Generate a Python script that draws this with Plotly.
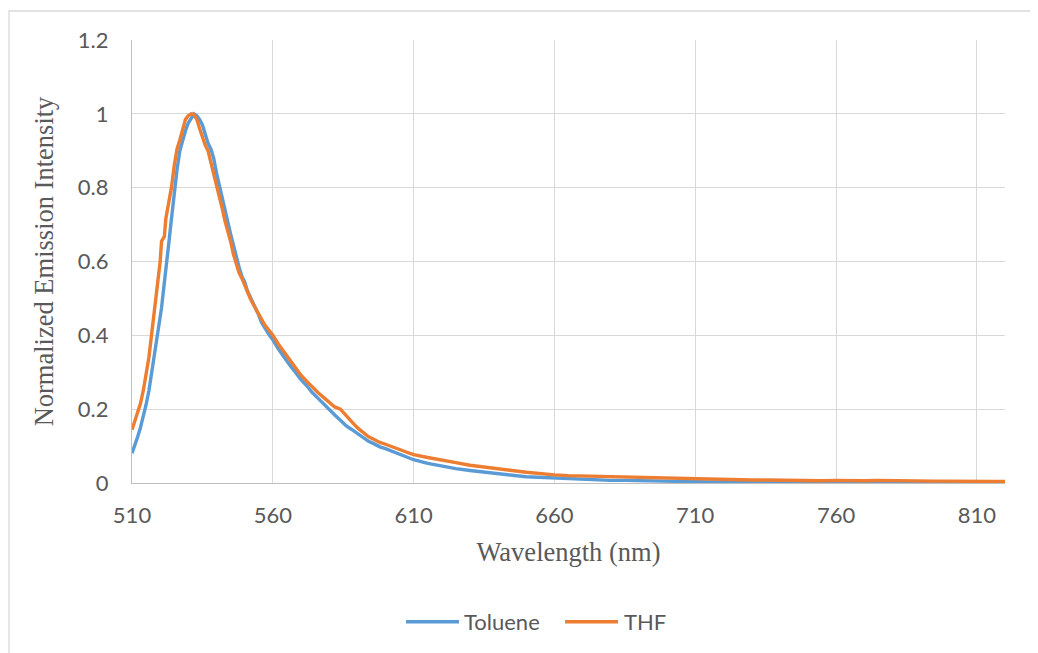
import plotly.graph_objects as go

# Wavelength grid (nm)
wavelength = [510, 511, 512, 513, 514, 515, 516, 517, 518, 519, 520, 520.5, 521, 521.5, 522, 523, 524, 525,
              526, 527, 528, 529, 530, 531, 532, 533, 534, 535, 536, 537, 538, 539, 540, 541, 542, 543,
              544, 545, 546, 547, 548, 549, 550, 551, 552, 553, 554, 555, 556, 557, 558, 559, 560,
              562, 564, 566, 568, 570, 572, 574, 576, 578, 580, 582, 584, 586, 588, 590, 592, 594,
              596, 598, 600, 602, 604, 606, 608, 610, 615, 620, 625, 630, 635, 640, 645, 650, 655,
              660, 665, 670, 675, 680, 685, 690, 695, 700, 705, 710, 715, 720, 725, 730, 735, 740,
              745, 750, 755, 760, 765, 770, 775, 780, 785, 790, 795, 800, 805, 810, 815, 820]

toluene = [0.081, 0.100, 0.125, 0.150, 0.180, 0.212, 0.250, 0.298, 0.345, 0.392, 0.445, 0.475, 0.510, 0.540, 0.575, 0.645, 0.715, 0.790,
           0.850, 0.900, 0.930, 0.955, 0.975, 0.990, 1.000, 0.995, 0.985, 0.970, 0.945, 0.920, 0.905, 0.880, 0.840, 0.805, 0.770, 0.735,
           0.705, 0.675, 0.645, 0.610, 0.585, 0.560, 0.545, 0.520, 0.505, 0.490, 0.470, 0.455, 0.435, 0.420, 0.410, 0.398, 0.388,
           0.363, 0.340, 0.320, 0.300, 0.280, 0.264, 0.245, 0.230, 0.214, 0.200, 0.184, 0.170, 0.155, 0.145, 0.134, 0.124, 0.113,
           0.106, 0.098, 0.093, 0.087, 0.080, 0.075, 0.069, 0.063, 0.053, 0.045, 0.039, 0.034, 0.029, 0.024, 0.021, 0.017, 0.015,
           0.013, 0.011, 0.010, 0.008, 0.007, 0.007, 0.006, 0.005, 0.004, 0.004, 0.004, 0.003, 0.003, 0.003, 0.002, 0.002, 0.002,
           0.001, 0.002, 0.001, 0.001, 0.001, 0.001, 0.001, 0.001, 0.000, 0.001, 0.000, 0.000, 0.000, 0.000, 0.000, 0.000]

thf = [0.144, 0.168, 0.190, 0.215, 0.250, 0.290, 0.340, 0.405, 0.470, 0.540, 0.600, 0.655, 0.663, 0.668, 0.715, 0.760, 0.800, 0.860,
       0.905, 0.930, 0.960, 0.985, 0.995, 1.000, 0.998, 0.985, 0.960, 0.935, 0.915, 0.900, 0.870, 0.840, 0.810, 0.775, 0.745, 0.710,
       0.685, 0.655, 0.620, 0.595, 0.570, 0.555, 0.535, 0.515, 0.500, 0.485, 0.470, 0.460, 0.445, 0.430, 0.420, 0.410, 0.400,
       0.376, 0.355, 0.334, 0.312, 0.292, 0.276, 0.260, 0.245, 0.232, 0.220, 0.206, 0.200, 0.182, 0.166, 0.150, 0.136, 0.125,
       0.118, 0.110, 0.105, 0.100, 0.093, 0.088, 0.082, 0.077, 0.069, 0.061, 0.055, 0.048, 0.044, 0.039, 0.034, 0.029, 0.025,
       0.022, 0.020, 0.019, 0.018, 0.017, 0.015, 0.014, 0.013, 0.012, 0.012, 0.011, 0.010, 0.009, 0.009, 0.008, 0.008, 0.007,
       0.008, 0.007, 0.006, 0.007, 0.006, 0.006, 0.007, 0.006, 0.005, 0.006, 0.005, 0.005, 0.004, 0.005, 0.004, 0.004]

series_names = ["Toluene", "THF"]
series_colors = ["#5B9BD5", "#ED7D31"]

x_ticks = [510, 560, 610, 660, 710, 760, 810]
y_ticks = [0, 0.2, 0.4, 0.6, 0.8, 1.0, 1.2]
y_tick_labels = ["0", "0.2", "0.4", "0.6", "0.8", "1", "1.2"]

fig = go.Figure()
for name, ys, col in zip(series_names, [toluene, thf], series_colors):
    fig.add_trace(go.Scatter(x=wavelength, y=ys, mode="lines", name=name,
                             line=dict(color=col, width=3.4, shape="linear")))

tick_font = dict(family="Lato, 'Open Sans', sans-serif", size=22, color="#595959")
title_font = dict(family="'Liberation Serif', 'Times New Roman', serif", size=26.5, color="#595959")

# plot area on screen: x 132..1005, y 40..483
PX0, PW, PY0, PH = 132, 873, 483, 443
def px(x):
    return (x - PX0) / PW
def py(y):
    return (PY0 - y) / PH

shapes = [dict(type="rect", xref="paper", yref="paper",
               x0=px(9), x1=px(1045), y0=py(670), y1=py(11),
               line=dict(color="#d9d9d9", width=1.3), fillcolor="rgba(0,0,0,0)", layer="below")]
annotations = []
legend_items = [(406, 459, 463), (565, 618, 623)]
for (lx0, lx1, tx), name, col in zip(legend_items, series_names, series_colors):
    shapes.append(dict(type="line", xref="paper", yref="paper",
                       x0=px(lx0), x1=px(lx1), y0=py(621.7), y1=py(621.7),
                       line=dict(color=col, width=3.6)))
    annotations.append(dict(xref="paper", yref="paper", x=px(tx), y=py(621), xanchor="left",
                            yanchor="middle", text=name, showarrow=False, font=tick_font,
                            borderpad=0))

fig.update_layout(
    width=1038, height=653,
    margin=dict(l=124, r=41, t=32, b=178, autoexpand=False),
    paper_bgcolor="white", plot_bgcolor="white",
    showlegend=False,
    xaxis=dict(range=[510, 820], tickmode="array", tickvals=x_ticks,
               ticktext=[str(v) for v in x_ticks],
               showgrid=True, gridcolor="#d9d9d9", gridwidth=1.3,
               showline=True, linecolor="#bfbfbf", linewidth=1.3,
               zeroline=False, ticks="", tickfont=tick_font, ticklabelstandoff=12,
               title=dict(text="Wavelength (nm)", font=title_font, standoff=15)),
    yaxis=dict(range=[0, 1.2], tickmode="array", tickvals=y_ticks, ticktext=y_tick_labels,
               showgrid=True, gridcolor="#d9d9d9", gridwidth=1.3,
               showline=True, linecolor="#bfbfbf", linewidth=1.3,
               zeroline=False, ticks="", tickfont=tick_font, ticklabelstandoff=18,
               title=dict(text="Normalized Emission Intensity", font=title_font, standoff=16)),
    shapes=shapes,
    annotations=annotations,
)

fig.write_html("out.html")
